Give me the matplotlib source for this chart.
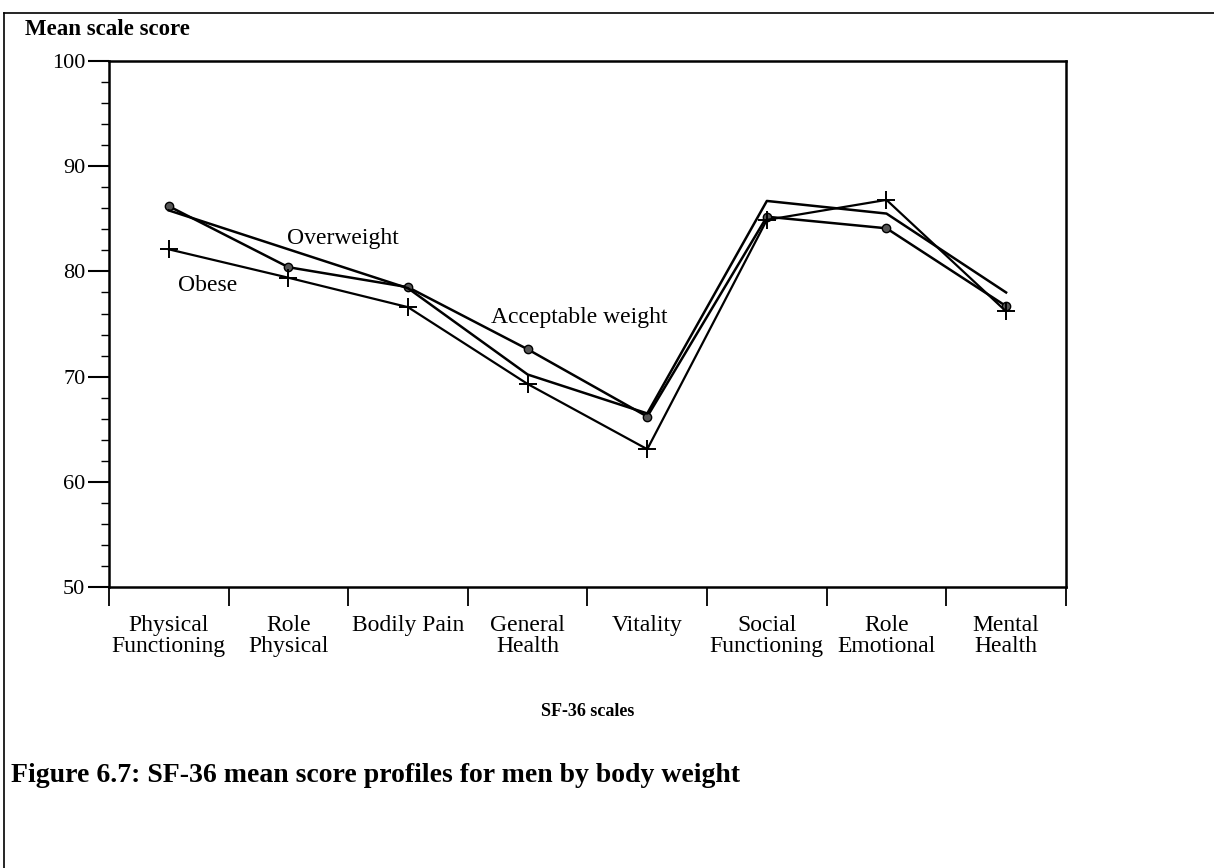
import matplotlib.pyplot as plt
from matplotlib.lines import Line2D
import numpy as np

plt.rcParams['font.family'] = ['Liberation Serif', 'DejaVu Serif']

# SF-36 scales on the x axis
scales = ['Physical\nFunctioning', 'Role\nPhysical', 'Bodily Pain', 'General\nHealth',
          'Vitality', 'Social\nFunctioning', 'Role\nEmotional', 'Mental\nHealth']

# mean scale scores
acceptable = [86.2, 80.4, 78.5, 72.6, 66.2, 85.2, 84.1, 76.7]
overweight = [85.8, 82.1, 78.4, 70.2, 66.5, 86.7, 85.5, 78.0]
obese = [82.1, 79.4, 76.6, 69.3, 63.1, 84.9, 86.8, 76.2]

fig = plt.figure(figsize=(12.14, 8.68), dpi=100)
ax = fig.add_axes([0.0898, 0.3237, 0.7882, 0.606])

x = np.arange(len(scales))
ax.plot(x, acceptable, color='black', lw=1.8, marker='o', ms=6,
        mfc='#555555', mec='black', mew=1.0)
ax.plot(x, overweight, color='black', lw=1.8)
ax.plot(x, obese, color='black', lw=1.6, marker='+', ms=13, mew=1.4)

# series labels written next to the lines
ax.text(0.99, 83.1, 'Overweight', fontsize=17, va='center')
ax.text(0.08, 78.7, 'Obese', fontsize=17, va='center')
ax.text(2.69, 75.6, 'Acceptable weight', fontsize=17, va='center')

ax.set_xlim(-0.5, len(scales) - 0.5)
ax.set_ylim(50, 100)

# ticks between categories, labels at the centres
ax.set_xticks(np.arange(-0.5, len(scales), 1.0))
ax.set_xticklabels([])
ax.set_xticks(x, minor=True)
ax.set_xticklabels(scales, minor=True, fontsize=17, linespacing=1.02)
ax.tick_params(axis='x', which='major', direction='out', length=14, width=1.3)
ax.tick_params(axis='x', which='minor', length=0, pad=20)

ax.set_yticks(np.arange(50, 101, 10))
ax.set_yticks(np.arange(50, 101, 2), minor=True)
ax.tick_params(axis='y', which='major', direction='out', length=15, width=1.5,
               labelsize=16, pad=2)
ax.tick_params(axis='y', which='minor', direction='out', length=6, width=1.0)

for s in ax.spines.values():
    s.set_linewidth(1.8)

fig.text(0.021, 0.966, 'Mean scale score', fontsize=16.5, fontweight='bold', va='center')
fig.text(0.484, 0.18, 'SF-36 scales', fontsize=13, fontweight='bold', ha='center', va='center')
fig.text(0.009, 0.107, 'Figure 6.7: SF-36 mean score profiles for men by body weight',
         fontsize=20, fontweight='bold', va='center')

# outer frame of the scanned page (top and left edges)
fig.add_artist(Line2D([0.0033, 1.0], [0.985, 0.985], color='black', lw=1.2,
                      transform=fig.transFigure))
fig.add_artist(Line2D([0.0033, 0.0033], [0.0, 0.985], color='black', lw=1.2,
                      transform=fig.transFigure))

fig.savefig('out.png', dpi=100)
